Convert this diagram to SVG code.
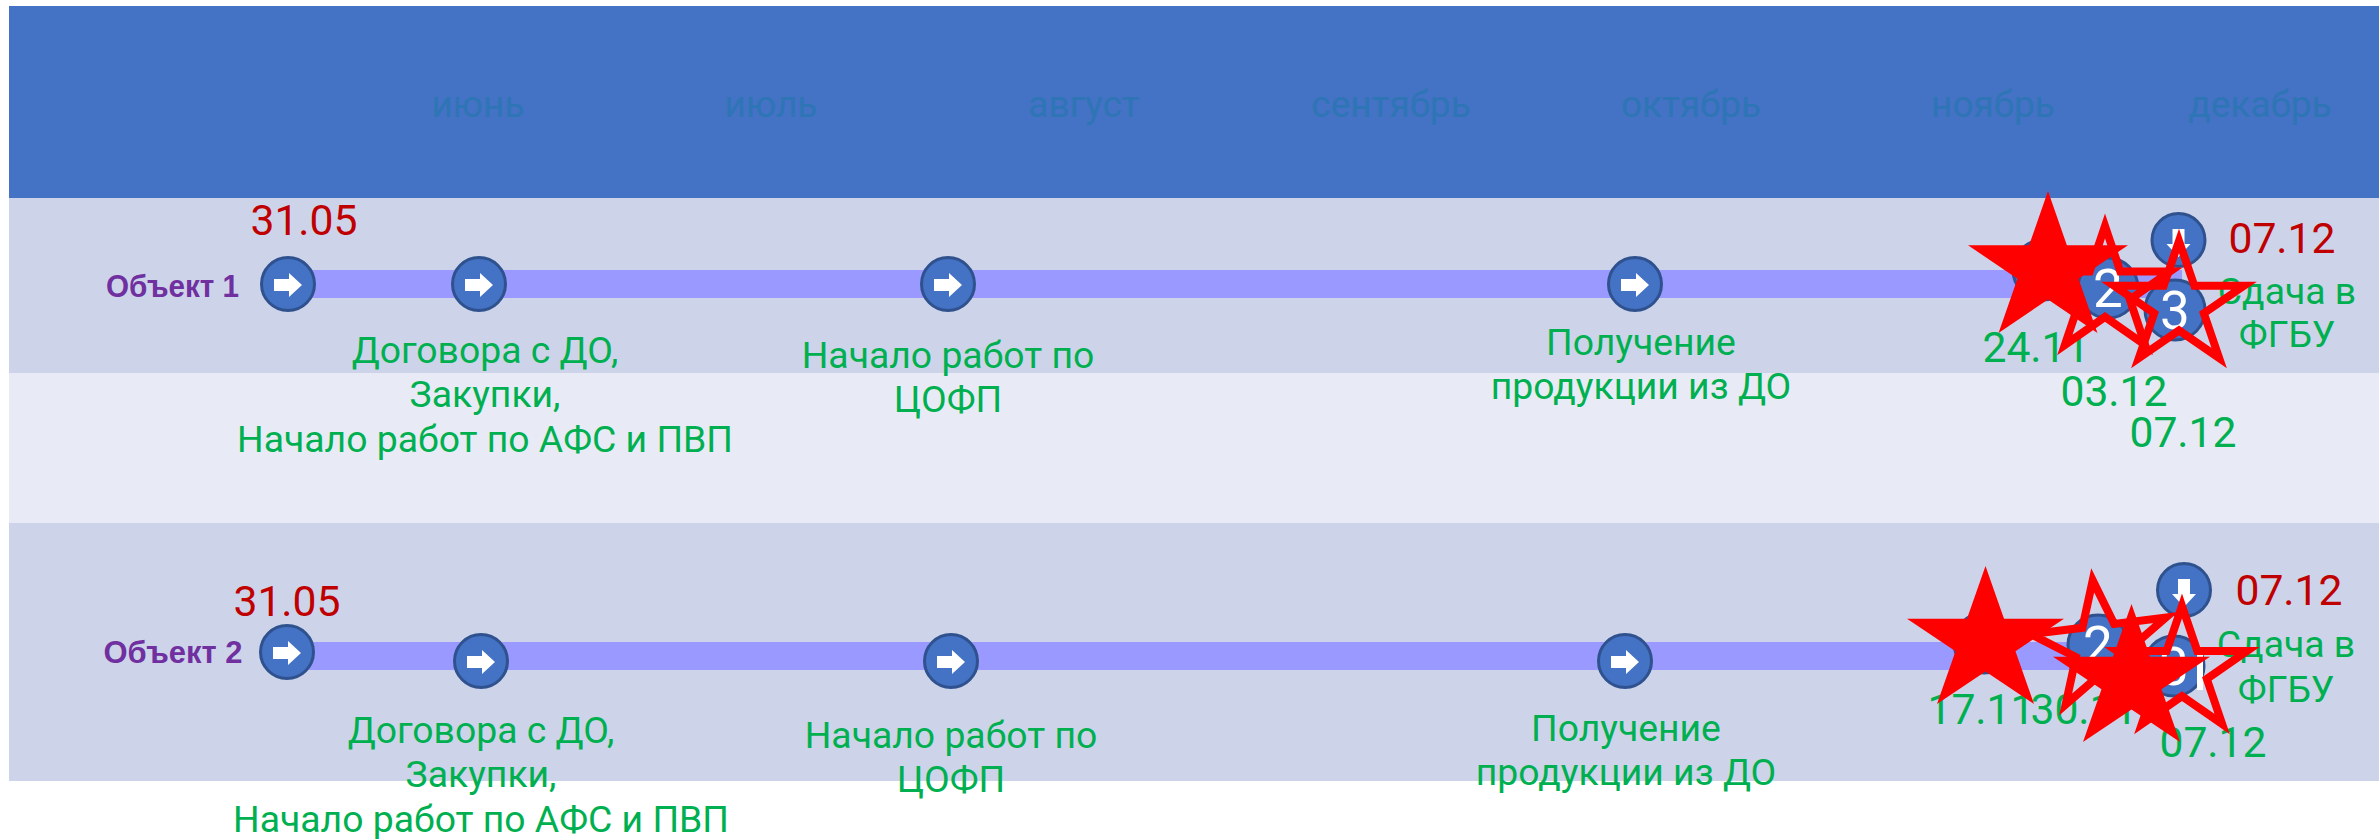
<svg xmlns="http://www.w3.org/2000/svg" width="2379" height="839" viewBox="0 0 2379 839">
<style>
text{font-family:Roboto,"Liberation Sans",sans-serif;text-anchor:middle}
.m{font-size:37px;fill:#2e75b6}
.g{font-size:37.33px;fill:#00b050}
.d{font-size:42.67px;fill:#00b050}
.r{font-size:42.67px;fill:#c00000}
.o{font-family:"Liberation Sans",Arial,sans-serif;font-weight:bold;font-size:32px;fill:#7030a0}
.n{font-size:53px;fill:#fff}
.c{fill:#4472c4;stroke:#2f528f;stroke-width:3}
.fs{fill:#f00}
.os{fill:none;stroke:#f00;stroke-width:8}
</style>
<defs>
<polygon id="s" points="50,0 61.8,38.2 100,38.2 69.1,61.8 80.9,100 50,76.4 19.1,100 30.9,61.8 0,38.2 38.2,38.2" style="vector-effect:non-scaling-stroke"/>
<polygon id="ar" fill="#fff" points="-14,-6 1,-6 1,-12 14,0 1,12 1,6 -14,6"/>
<polygon id="ad" fill="#fff" points="-6,-14 6,-14 6,1 12,1 0,14 -12,1 -6,1"/>
</defs>
<g id="table">
<rect x="9" y="6" width="2370" height="192" fill="#4472c4"/>
<rect x="9" y="198" width="2370" height="175" fill="#cdd4ea"/>
<rect x="9" y="373" width="2370" height="150" fill="#e8ebf5"/>
<rect x="9" y="523" width="2370" height="258" fill="#cdd4ea"/>
<text class="m" x="478" y="117">июнь</text>
<text class="m" x="771" y="117">июль</text>
<text class="m" x="1084" y="117">август</text>
<text class="m" x="1391" y="117">сентябрь</text>
<text class="m" x="1691" y="117">октябрь</text>
<text class="m" x="1993" y="117">ноябрь</text>
<text class="m" x="2260" y="117">декабрь</text>
</g>
<g id="connectors">
<rect x="288" y="270" width="1894" height="28" fill="#9999ff"/>
<rect x="288" y="642" width="1810" height="28" fill="#9999ff"/>
</g>
<g id="labels">
<text class="o" x="172.500" y="297" textLength="133" lengthAdjust="spacingAndGlyphs">Объект 1</text>
<text class="o" x="173" y="663" textLength="139" lengthAdjust="spacingAndGlyphs">Объект 2</text>
<text class="r" x="304" y="235">31.05</text>
<text class="r" x="287" y="616">31.05</text>
<text class="g" x="485" y="363">Договора с ДО,</text>
<text class="g" x="485" y="407">Закупки,</text>
<text class="g" x="485" y="452">Начало работ по АФС и ПВП</text>
<text class="g" x="948" y="368">Начало работ по</text>
<text class="g" x="948" y="412">ЦОФП</text>
<text class="g" x="1641" y="355">Получение</text>
<text class="g" x="1641" y="399">продукции из ДО</text>
<text class="d" x="2036" y="362">24.11</text>
<text class="d" x="2114" y="406">03.12</text>
<text class="d" x="2183" y="447">07.12</text>
<text class="r" x="2282" y="253">07.12</text>
<text class="g" x="2287" y="304">Сдача в</text>
<text class="g" x="2287" y="347">ФГБУ</text>
<text class="g" x="481" y="743">Договора с ДО,</text>
<text class="g" x="481" y="787">Закупки,</text>
<text class="g" x="481" y="832">Начало работ по АФС и ПВП</text>
<text class="g" x="951" y="748">Начало работ по</text>
<text class="g" x="951" y="792">ЦОФП</text>
<text class="g" x="1626" y="741">Получение</text>
<text class="g" x="1626" y="785">продукции из ДО</text>
<text class="d" x="1981" y="724">17.11</text>
<text class="d" x="2084" y="724">30.11</text>
<text class="d" x="2213" y="757">07.12</text>
<text class="r" x="2289" y="605">07.12</text>
<text class="g" x="2286" y="657">Сдача в</text>
<text class="g" x="2286" y="702">ФГБУ</text>
</g>
<g id="node-1-1"><circle class="c" cx="288" cy="284" r="26.5"/><use href="#ar" x="288" y="285"/></g>
<g id="node-1-2"><circle class="c" cx="479" cy="284" r="26.5"/><use href="#ar" x="479" y="285"/></g>
<g id="node-1-3"><circle class="c" cx="948" cy="284" r="26.5"/><use href="#ar" x="948" y="285"/></g>
<g id="node-1-4"><circle class="c" cx="1635" cy="284" r="26.5"/><use href="#ar" x="1635" y="285"/></g>
<g id="node-1-5"><circle class="c" cx="2043" cy="270" r="30"/><text class="n" x="2043" y="289">1</text></g>
<g id="node-1-6"><circle class="c" cx="2108" cy="288" r="30"/><text class="n" x="2108" y="307">2</text></g>
<g id="node-1-7"><circle class="c" cx="2175" cy="310" r="30"/><text class="n" x="2175" y="329">3</text></g>
<g id="node-1-8"><circle class="c" cx="2178.500" cy="240" r="26.5"/><use href="#ad" x="2178.500" y="243"/></g>
<g id="node-2-1"><circle class="c" cx="287" cy="652" r="26.5"/><use href="#ar" x="287" y="653"/></g>
<g id="node-2-2"><circle class="c" cx="481" cy="661" r="26.5"/><use href="#ar" x="481" y="662"/></g>
<g id="node-2-3"><circle class="c" cx="951" cy="661" r="26.5"/><use href="#ar" x="951" y="662"/></g>
<g id="node-2-4"><circle class="c" cx="1625" cy="661" r="26.5"/><use href="#ar" x="1625" y="662"/></g>
<g id="node-2-5"><circle class="c" cx="1984" cy="643" r="30"/><text class="n" x="1984" y="662">1</text></g>
<g id="node-2-6"><circle class="c" cx="2098" cy="645" r="30"/><text class="n" x="2098" y="664">2</text></g>
<g id="node-2-7"><circle class="c" cx="2174" cy="666" r="30"/><text class="n" x="2174" y="685">3</text><rect x="2197" y="652" width="6" height="38" fill="#fff"/></g>
<g id="node-2-8"><circle class="c" cx="2184" cy="590" r="26.5"/><use href="#ad" x="2184" y="593"/></g>
<g id="stars">
<use href="#s" class="fs" transform="translate(1968 191) scale(1.6 1.42)"/>
<use href="#s" class="os" transform="translate(2040 226) scale(1.3 1.19)"/>
<use href="#s" class="os" transform="translate(2114 241) scale(1.3 1.17)"/>
<use href="#s" class="fs" transform="translate(1907 566) scale(1.57 1.38)"/>
<use href="#s" class="os" transform="rotate(-7 2100 648) translate(2033 580) scale(1.36 1.2)"/>
<use href="#s" class="fs" transform="translate(2053 604) scale(1.57 1.38)"/>
<use href="#s" class="os" transform="translate(2117 606) scale(1.3 1.18)"/>
</g>
</svg>
